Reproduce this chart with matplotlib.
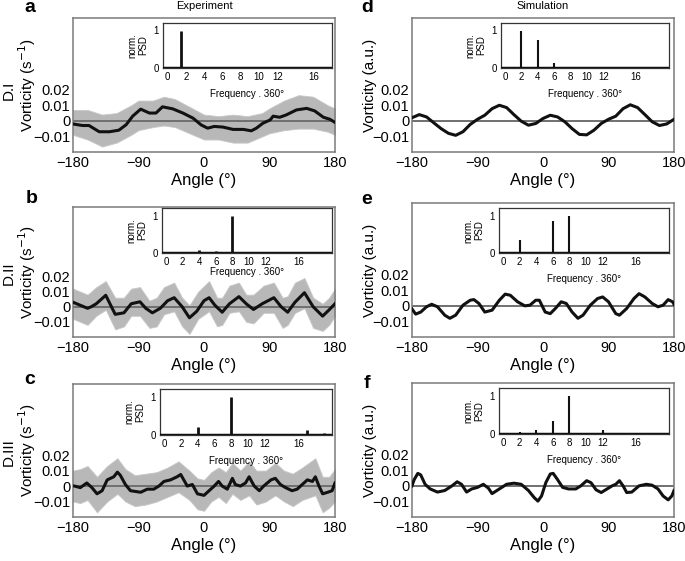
import numpy as np
import matplotlib
matplotlib.use("Agg")
import matplotlib.pyplot as plt

plt.rcParams['font.family'] = ['Liberation Sans', 'DejaVu Sans']
plt.rcParams['axes.unicode_minus'] = True

W, H = 685, 561

# ---- experiment, D.I ----
a_ang = [-180, -167, -158, -144, -130, -117, -107, -98, -87, -75, -66, -57, -43, -29, -15, -4,
         5, 14, 26, 40, 54, 65, 72, 81, 91, 95, 104, 113, 127, 141, 152, 164, 173, 180]
a_val = [-0.002, -0.003, -0.003, -0.007, -0.007, -0.006, -0.0025, 0.003, 0.0075, 0.005, 0.005, 0.009,
         0.0077, 0.005, 0.0017, -0.0026, -0.0047, -0.0036, -0.004, -0.0055, -0.0055, -0.0064, -0.0047,
         -0.0015, 0.0006, 0.003, 0.0023, 0.0038, 0.007, 0.008, 0.0064, 0.0023, 0.001, -0.001]
a_env_ang = [-180, -160, -140, -120, -100, -90, -70, -55, -40, -20, 0, 20, 40, 60, 80, 90, 110, 130, 150, 170, 180]
a_up = [0.007, 0.007, 0.004, 0.005, 0.010, 0.013, 0.013, 0.0155, 0.014, 0.009, 0.004, 0.003, 0.004,
        0.003, 0.005, 0.008, 0.013, 0.0165, 0.0155, 0.010, 0.008]
a_lo = [-0.009, -0.012, -0.0165, -0.014, -0.009, -0.006, -0.004, -0.003, -0.004, -0.008, -0.012, -0.012,
        -0.014, -0.014, -0.010, -0.008, -0.006, -0.005, -0.005, -0.007, -0.009]

# ---- experiment, D.II ----
b_ang = [-180, -170, -160, -155, -148, -135, -122, -110, -100, -88, -80, -71, -60, -50, -41, -30,
         -20, -10, 0, 7, 15, 25, 35, 48, 58, 68, 80, 96, 106, 115, 125, 138, 150, 163, 172, 180]
b_val = [0.003, 0.001, -0.001, 0.000, 0.002, 0.0076, -0.005, -0.004, 0.002, 0.0033, -0.001, -0.004,
         -0.001, 0.004, 0.006, 0.000, -0.0073, -0.003, 0.004, 0.006, 0.001, -0.0036, 0.002, 0.0067,
         0.002, -0.0018, 0.002, 0.006, 0.000, -0.0036, 0.003, 0.0093, 0.000, -0.0062, -0.002, 0.002]
b_env_ang = [-180, -170, -160, -148, -135, -122, -110, -100, -88, -75, -65, -55, -41, -30, -20, -8, 7,
             18, 25, 35, 48, 58, 68, 82, 96, 108, 115, 125, 138, 150, 163, 172, 180]
b_up = [0.012, 0.010, 0.008, 0.013, 0.017, 0.006, 0.006, 0.012, 0.013, 0.004, 0.006, 0.013, 0.016,
        0.006, 0.001, 0.010, 0.017, 0.006, 0.006, 0.014, 0.016, 0.008, 0.008, 0.014, 0.016, 0.006,
        0.007, 0.016, 0.019, 0.006, 0.002, 0.006, 0.012]
b_lo = [-0.008, -0.010, -0.012, -0.006, -0.002, -0.015, -0.013, -0.006, -0.006, -0.014, -0.013,
        -0.005, -0.003, -0.013, -0.018, -0.008, -0.003, -0.013, -0.012, -0.004, -0.003, -0.010,
        -0.011, -0.004, -0.004, -0.014, -0.012, -0.004, -0.001, -0.014, -0.016, -0.012, -0.006]

# ---- experiment, D.III ----
c_ang = [-178, -170, -161, -154, -147, -140, -133, -124, -119, -115, -108, -101, -87, -78, -69, -62,
         -55, -46, -37, -32, -23, -16, -9, 0, 7, 14, 20, 25, 32, 39, 43, 50, 57, 62, 69, 76, 82, 92,
         98, 105, 112, 121, 128, 135, 142, 149, 153, 158, 163, 170, 176, 180]
c_val = [0.000, -0.001, 0.002, -0.001, -0.005, -0.003, 0.004, 0.006, 0.009, 0.007, 0.001, -0.003,
         -0.004, -0.002, -0.002, 0.000, 0.003, 0.004, 0.006, 0.0075, 0.000, 0.001, -0.005, -0.006,
         -0.003, 0.000, 0.003, 0.000, -0.002, 0.005, 0.001, 0.000, 0.002, 0.006, 0.000, -0.003,
         0.000, 0.004, 0.005, 0.001, -0.001, -0.003, -0.002, 0.001, 0.004, 0.003, 0.006, 0.000,
         -0.005, -0.004, -0.003, 0.002]
c_env_ang = [-180, -170, -160, -147, -133, -119, -108, -95, -80, -65, -50, -35, -20, -9, 0, 10, 20,
             30, 39, 50, 62, 72, 85, 98, 110, 122, 135, 153, 163, 172, 180]
c_up = [0.010, 0.011, 0.013, 0.006, 0.013, 0.018, 0.011, 0.007, 0.008, 0.009, 0.012, 0.016, 0.010,
        0.005, 0.004, 0.009, 0.012, 0.009, 0.015, 0.010, 0.016, 0.010, 0.010, 0.015, 0.010, 0.008,
        0.012, 0.018, 0.006, 0.006, 0.011]
c_lo = [-0.010, -0.011, -0.009, -0.017, -0.010, -0.005, -0.010, -0.013, -0.012, -0.010, -0.007,
        -0.004, -0.009, -0.015, -0.016, -0.010, -0.007, -0.011, -0.005, -0.009, -0.006, -0.012,
        -0.010, -0.006, -0.010, -0.013, -0.009, -0.006, -0.017, -0.014, -0.010]

# ---- simulation ----
d_ang = list(range(-180, 181, 10))
d_val = [0.002, 0.004, 0.0025, -0.0013, -0.005, -0.008, -0.0093, -0.007, -0.0023, 0.001, 0.0036,
         0.0078, 0.010, 0.0085, 0.004, -0.0002, -0.0028, -0.0017, 0.0015, 0.0036, 0.0025, -0.0006,
         -0.005, -0.0087, -0.009, -0.006, -0.0017, 0.001, 0.003, 0.0078, 0.0103, 0.0085, 0.004,
         -0.0006, -0.003, -0.002, 0.001]

e_ang = [-180, -175, -168, -160, -153, -145, -135, -128, -120, -110, -100, -95, -88, -80, -70, -60,
         -52, -45, -35, -25, -18, -10, -5, 3, 10, 17, 25, 32, 40, 48, 55, 65, 75, 82, 90, 100, 105,
         115, 125, 132, 140, 150, 158, 165, 172, 178, 180]
e_val = [-0.002, -0.0053, -0.004, -0.0006, 0.001, -0.0006, -0.006, -0.008, -0.006, 0.0004, 0.0036,
         0.004, 0.0015, -0.004, -0.0028, 0.0036, 0.0075, 0.0068, 0.0026, 0.000, 0.0004, 0.0036,
         0.0036, -0.004, -0.005, -0.0017, 0.0026, 0.0015, -0.004, -0.008, -0.006, 0.0004, 0.0047,
         0.0057, 0.0026, -0.005, -0.006, -0.0017, 0.0047, 0.0078, 0.0057, 0.0015, -0.0006, 0.0004,
         0.004, 0.0026, 0.001]

f_ang = [-180, -177, -172, -168, -162, -155, -145, -135, -125, -118, -112, -105, -98, -90, -82, -75,
         -70, -60, -50, -40, -30, -20, -12, -7, -2, 4, 10, 14, 20, 27, 35, 45, 52, 60, 66, 73, 80,
         88, 95, 100, 105, 110, 115, 122, 132, 142, 150, 158, 165, 172, 177, 180]
f_val = [0.000, 0.004, 0.008, 0.007, 0.001, -0.002, -0.004, -0.003, 0.000, 0.0026, 0.001, -0.004,
         -0.002, -0.001, 0.001, -0.0015, -0.005, -0.002, 0.001, 0.0017, 0.001, -0.003, -0.0076,
         -0.0098, -0.0065, 0.0022, 0.0076, 0.008, 0.004, -0.001, -0.002, -0.002, 0.000, 0.0033,
         0.002, -0.0026, -0.0043, -0.002, 0.000, 0.001, 0.0033, 0.000, -0.0043, -0.004, 0.000,
         0.001, 0.0004, -0.002, -0.0065, -0.009, -0.0065, -0.003]

# ---- normalised spectra (insets) ----
a_freq, a_psd = [1.5], [1.0]
b_freq, b_psd = [2, 4, 5, 6, 8], [0.03, 0.07, 0.03, 0.05, 1.0]
c_freq = [1, 2, 3, 4, 6, 8, 9, 10, 12, 14, 17, 19]
c_psd = [0.02, 0.02, 0.02, 0.22, 0.02, 1.0, 0.03, 0.02, 0.03, 0.02, 0.12, 0.04]
d_freq, d_psd = [2, 4, 6], [1.0, 0.75, 0.13]
e_freq, e_psd = [2, 6, 8, 12], [0.36, 0.86, 1.0, 0.03]
f_freq, f_psd = [2, 4, 6, 8, 12, 14], [0.04, 0.10, 0.35, 1.0, 0.10, 0.03]

angle_ticks = [-180, -90, 0, 90, 180]
vort_ticks = [-0.01, 0, 0.01, 0.02]
vort_labels = ['\u22120.01', '0', '0.01', '0.02']
freq_ticks = [0, 2, 4, 6, 8, 10, 12, 16]

fig = plt.figure(figsize=(W / 100, H / 100), dpi=100)


def px_axes(x0, y0, x1, y1):
    return fig.add_axes([x0 / W, 1 - y1 / H, (x1 - x0) / W, (y1 - y0) / H])


def main_panel(box, ang, val, ylabel, env=None):
    ax = px_axes(*box)
    if env is not None:
        ax.fill_between(env[0], env[1], env[2], color='#b8b8b8', lw=0.6, edgecolor='#c8c8c8', zorder=1)
    ax.axhline(0, color='#707070', lw=1.4, zorder=2)
    ax.plot(ang, val, color='#111111', lw=2.2, zorder=3, solid_joinstyle='round')
    ax.set_xlim(-180, 180)
    ax.set_ylim(-0.02, 0.066)
    ax.set_xticks(angle_ticks)
    ax.set_yticks(vort_ticks)
    ax.set_yticklabels(vort_labels)
    ax.tick_params(length=0, labelsize=10.5, pad=3)
    ax.tick_params(axis='y', pad=2)
    for s in ax.spines.values():
        s.set_color('#7a7a7a')
        s.set_linewidth(1.1)
    ax.set_xlabel('Angle (\u00b0)', fontsize=12, labelpad=2)
    ax.set_ylabel(ylabel, fontsize=11)
    # right edge of the rotated label sits ~35 px left of the box
    ax.yaxis.set_label_coords(-35 / (box[2] - box[0]), 0.5)
    return ax


def inset(box, freq, psd, xmax, lw, labelpad=5):
    ax = px_axes(*box)
    ax.vlines(freq, 0, psd, color='#111111', lw=lw)
    ax.axhline(0, color='#111111', lw=2.5, zorder=3)
    ax.set_xlim(-0.5, xmax)
    ax.set_ylim(0, 1.2)
    ax.set_xticks(freq_ticks)
    ax.set_yticks([0, 1])
    ax.tick_params(length=0, labelsize=7, pad=3)
    for s in ax.spines.values():
        s.set_color('#333333')
        s.set_linewidth(0.9)
    ax.set_xlabel('Frequency . 360\u00b0', fontsize=7, labelpad=labelpad)
    ax.set_ylabel('norm.\nPSD', fontsize=7, labelpad=4, linespacing=1.0)
    return ax


main_panel((73, 18, 335, 152), a_ang, a_val, 'Vorticity (s$^{-1}$)', (a_env_ang, a_up, a_lo))
main_panel((73, 207, 335, 337), b_ang, b_val, 'Vorticity (s$^{-1}$)', (b_env_ang, b_up, b_lo))
main_panel((73, 384, 335, 517), c_ang, c_val, 'Vorticity (s$^{-1}$)', (c_env_ang, c_up, c_lo))
main_panel((412, 18, 674, 152), d_ang, d_val, 'Vorticity (a.u.)')
main_panel((412, 203, 674, 337), e_ang, e_val, 'Vorticity (a.u.)')
main_panel((412, 383, 674, 517), f_ang, f_val, 'Vorticity (a.u.)')

inset((163, 23, 332, 68), a_freq, a_psd, 18, 2.0)
inset((162, 208, 332, 253), b_freq, b_psd, 20, 2.0, labelpad=0)
inset((160, 389, 332, 435), c_freq, c_psd, 20, 2.0)
inset((501, 23, 669, 68), d_freq, d_psd, 20, 1.5)
inset((499, 208, 669, 253), e_freq, e_psd, 20, 1.5)
inset((499, 388, 669, 434), f_freq, f_psd, 20, 1.5)

for lab, x, y in [('a', 30, 8), ('b', 32, 198), ('c', 30, 380),
                  ('d', 367, 8), ('e', 367, 200), ('f', 367, 384)]:
    fig.text(x / W, 1 - y / H, lab, fontsize=14, fontweight='bold', ha='center', va='center')

fig.text(204 / W, 1 - 6 / H, 'Experiment', fontsize=8, ha='center', va='center')
fig.text(543 / W, 1 - 6 / H, 'Simulation', fontsize=8, ha='center', va='center')

for lab, y in [('D.I', 90), ('D.II', 273), ('D.III', 452)]:
    fig.text(9 / W, 1 - y / H, lab, fontsize=11, rotation=90, ha='center', va='center')

fig.savefig('out.png', dpi=100)
